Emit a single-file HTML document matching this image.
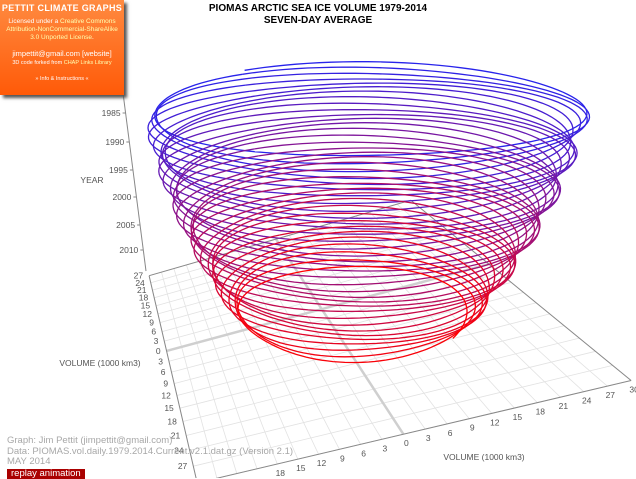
<!DOCTYPE html>
<html><head><meta charset="utf-8">
<style>
body{margin:0;background:#fff;width:636px;height:478px;overflow:hidden;position:relative;font-family:"Liberation Sans",sans-serif}
#box{position:absolute;left:0;top:0;width:124px;height:95px;background:linear-gradient(#ff8a40,#ff5a08);box-shadow:3px 3px 3px #555;color:#fff;text-align:center;font-size:6.5px;line-height:8px}
#box b{display:block;font-size:9px;margin:4px 0 6px;letter-spacing:0.3px}
.y{color:#ffffb0}
#foot{position:absolute;left:7px;top:436px;font-size:9.5px;color:#a8a8a8;line-height:10.5px}
#rep{display:inline-block;background:#a00;color:#fff;padding:0 4px;margin-top:1px}
svg{position:absolute;left:0;top:0}
</style></head><body>
<svg id="s" width="636" height="478" font-family="Liberation Sans, sans-serif"></svg>
<div id="box"><b>PETTIT CLIMATE GRAPHS</b>Licensed under a <span class="y">Creative Commons<br>Attribution-NonCommercial-ShareAlike<br>3.0 Unported License</span>.<br><br><span style="font-size:7.5px">jimpettit@gmail.com [website]</span><br><span style="font-size:5.5px">3D code forked from <span class="y">CHAP Links Library</span></span><br><br><span style="font-size:5.5px">» Info &amp; Instructions «</span></div>
<div id="foot">Graph: Jim Pettit (jimpettit@gmail.com)<br>Data: PIOMAS.vol.daily.1979.2014.Current.v2.1.dat.gz (Version 2.1)<br>MAY 2014<br><span id="rep">replay animation</span></div>
<script>
var s=document.getElementById('s'),h='';
var C=[[-30,-27,146,270,3],[-30,0,173,350,2],[-30,24,212,466,1],[0,0,305,321,1],[0,30,392,442,3],[30,30,636,365,3],[30,-27,420,216,1],[-30,-18,155,294,1]];
var rows=[],b=[];
C.forEach(function(c){var u=c[0],v=c[1],x=c[2],y=c[3],w=c[4];
for(var k=0;k<w;k++){rows.push([u,v,1,0,0,0,-u*x,-v*x]);b.push(x);
rows.push([0,0,0,u,v,1,-u*y,-v*y]);b.push(y);}});
var Mx=[],bb=[];
for(var i=0;i<8;i++){Mx.push([]);var sb=0;for(var j=0;j<8;j++){var sm=0;for(var r=0;r<rows.length;r++)sm+=rows[r][i]*rows[r][j];Mx[i].push(sm);}
for(var r=0;r<rows.length;r++)sb+=rows[r][i]*b[r];bb.push(sb);}
for(var i=0;i<8;i++){var p=i;for(var r=i+1;r<8;r++)if(Math.abs(Mx[r][i])>Math.abs(Mx[p][i]))p=r;
var t=Mx[i];Mx[i]=Mx[p];Mx[p]=t;t=bb[i];bb[i]=bb[p];bb[p]=t;
for(var r=0;r<8;r++)if(r!=i){var f=Mx[r][i]/Mx[i][i];for(var c=i;c<8;c++)Mx[r][c]-=f*Mx[i][c];bb[r]-=f*bb[i];}}
var H=bb.map(function(v,i){return v/Mx[i][i];});
function P(u,v){var w=H[6]*u+H[7]*v+1;return [(H[0]*u+H[1]*v+H[2])/w,(H[3]*u+H[4]*v+H[5])/w];}
function L(a,b,c,w){h+='<line x1="'+a[0].toFixed(1)+'" y1="'+a[1].toFixed(1)+'" x2="'+b[0].toFixed(1)+'" y2="'+b[1].toFixed(1)+'" stroke="'+c+'" stroke-width="'+w+'"/>';}
function T(p,t,a){if(p[1]>478||p[0]>636)return;h+='<text x="'+p[0].toFixed(1)+'" y="'+p[1].toFixed(1)+'" font-size="8.5" fill="#555" text-anchor="'+(a||'middle')+'">'+t+'</text>';}
for(var u=-30;u<=30;u+=3)L(P(u,-27),P(u,30),'#e2e2e2',0.8);
for(var v=-27;v<=30;v+=3)L(P(-30,v),P(30,v),'#e2e2e2',0.8);
L(P(0,-27),P(0,30),'#cfcfcf',2.5);L(P(-30,0),P(30,0),'#cfcfcf',2.5);
L(P(-30,-27),P(30,-27),'#888',1);L(P(30,-27),P(30,30),'#888',1);L(P(30,30),P(-30,30),'#888',1);L(P(-30,30),P(-30,-27),'#888',1);
for(var v=-27;v<30;v+=3){var p=P(-30,v);T([p[0]-6,p[1]+3],Math.abs(v),'end');}
for(var u=-30;u<=30;u+=3){var p=P(u,30);T([p[0]+3,p[1]+12],Math.abs(u));}
L([123,93],[146,271],'#888',1);
var yl=[[1985,113],[1990,142],[1995,170],[2000,197],[2005,225],[2010,250]];
yl.forEach(function(a){var x=123+(a[1]-93)*23/178;L([x-3,a[1]],[x,a[1]],'#888',1);T([x-5,a[1]+3],a[0],'end');});
T([92,183],'YEAR');T([100,366],'VOLUME (1000 km3)');T([484,460],'VOLUME (1000 km3)');
h+='<text x="318" y="11" font-size="10" font-weight="bold" text-anchor="middle">PIOMAS ARCTIC SEA ICE VOLUME 1979-2014</text>';
h+='<text x="318" y="23" font-size="10" font-weight="bold" text-anchor="middle">SEVEN-DAY AVERAGE</text>';
var N=36;
for(var y=0;y<N;y++){var pts=[],end=(y==N-1)?0.4:1;
 for(var k=0;k<=120*end;k++){var t=y+k/120,th=2*Math.PI*t-2.1;
  var rx=218-1.2*t-0.05*t*t,ry=45+1.1*t-0.028*t*t;
  var m=1-0.07*Math.cos(th-2.3)+0.03*Math.sin(3*th+t);
  var x=357-0.2*t+rx*m*Math.cos(th),yy=110+5.9*t+ry*m*Math.sin(th);
  pts.push(x.toFixed(1)+','+yy.toFixed(1));}
 var f=y/(N-1),col='rgb('+Math.round(40+215*f)+','+Math.round(35*(1-f))+','+Math.round(235*(1-f)+60*f*(1-f))+')';
 h+='<polyline fill="none" stroke="'+col+'" stroke-width="1.3" points="'+pts.join(' ')+'"/>';}
s.innerHTML=h;
</script>
</body></html>
